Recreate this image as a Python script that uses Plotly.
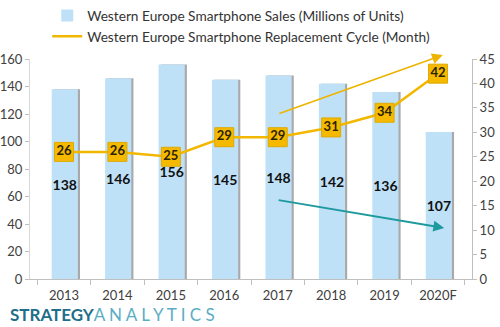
import plotly.graph_objects as go

years = ["2013", "2014", "2015", "2016", "2017", "2018", "2019", "2020F"]
sales = [138, 146, 156, 145, 148, 142, 136, 107]
cycle = [26, 26, 25, 29, 29, 31, 34, 42]
sales_name = "Western Europe Smartphone Sales (Millions of Units)"
cycle_name = "Western Europe Smartphone Replacement Cycle (Month)"

FONT = "Lato"
BLUE = "#BFE1F8"
GOLD = "#F2B800"

fig = go.Figure()

# bar shadow
fig.add_trace(go.Bar(
    x=years, y=sales, marker=dict(color="#A9A9A9", line=dict(width=0)),
    offset=-0.19, width=0.49, showlegend=False, hoverinfo="skip",
))
# main bars
fig.add_trace(go.Bar(
    x=years, y=sales, name=sales_name,
    marker=dict(color=BLUE, line=dict(width=0)),
    offset=-0.23, width=0.49,
    text=[str(v) for v in sales], textposition="inside", insidetextanchor="middle",
    constraintext="none", textangle=0,
    textfont=dict(family=FONT, size=14, color="#111111", weight="bold"),
    legendgroup="a",
))
# line (legend entry)
fig.add_trace(go.Scatter(
    x=years, y=cycle, yaxis="y2", mode="lines", name=cycle_name,
    line=dict(color=GOLD, width=2.5), legendgroup="b",
))
# markers with labels
fig.add_trace(go.Scatter(
    x=years, y=cycle, yaxis="y2", mode="markers+text", showlegend=False,
    marker=dict(symbol="square", size=19, color="#F5BA00", line=dict(color="#E0A800", width=1)),
    text=[str(v) for v in cycle], textposition="middle center",
    textfont=dict(family=FONT, size=13, color="#2B2200", weight="bold"),
))

# arrows
fig.add_annotation(xref="paper", yref="paper", axref="pixel", ayref="pixel",
                   x=0.934, y=1.018, ax=-165, ay=59, text="", showarrow=True,
                   arrowhead=2, arrowsize=1.2, arrowwidth=1.8, arrowcolor="#EDB500")
fig.add_annotation(xref="paper", yref="paper", axref="pixel", ayref="pixel",
                   x=0.937, y=0.232, ax=-167, ay=-28, text="", showarrow=True,
                   arrowhead=2, arrowsize=1.2, arrowwidth=1.8, arrowcolor="#1E9A9E")

# logo
analytics = " ".join("ANALYTICS")
fig.add_annotation(xref="paper", yref="paper", x=-0.05, y=-0.16,
                   xanchor="left", yanchor="middle", showarrow=False,
                   text="<b>STRATEGY</b><span style='color:#5BADC3'>" + analytics + "</span>",
                   font=dict(family=FONT, size=17, color="#1E6E8C"))

axis_font = dict(family=FONT, size=13, color="#404040")
fig.update_layout(
    width=500, height=327,
    margin=dict(l=30, r=28, t=59, b=48, autoexpand=False),
    paper_bgcolor="white", plot_bgcolor="white",
    barmode="overlay",
    font=dict(family=FONT, color="#404040"),
    xaxis=dict(type="category", tickfont=axis_font, showline=True, linecolor="#BFBFBF",
               ticks="outside", tickson="boundaries", ticklen=5, tickcolor="#BFBFBF",
               showgrid=False, ticklabelstandoff=4),
    yaxis=dict(range=[0, 160], dtick=20, tickfont=axis_font, showline=True,
               linecolor="#D9D9D9", ticks="outside", ticklen=4, tickcolor="#BFBFBF",
               showgrid=False, zeroline=False),
    yaxis2=dict(range=[0, 45], dtick=5, overlaying="y", side="right", tickfont=axis_font,
                showline=True, linecolor="#BFBFBF", ticks="outside", ticklen=4,
                tickcolor="#BFBFBF", showgrid=False, zeroline=False),
    legend=dict(x=0.039, y=1.0, xref="paper", yref="container", xanchor="left", yanchor="top",
                orientation="v",
                font=dict(family=FONT, size=13.7, color="#333333"),
                traceorder="grouped", tracegroupgap=0, itemwidth=30,
                bgcolor="rgba(0,0,0,0)"),
    showlegend=True,
)

fig.write_html("out.html")
